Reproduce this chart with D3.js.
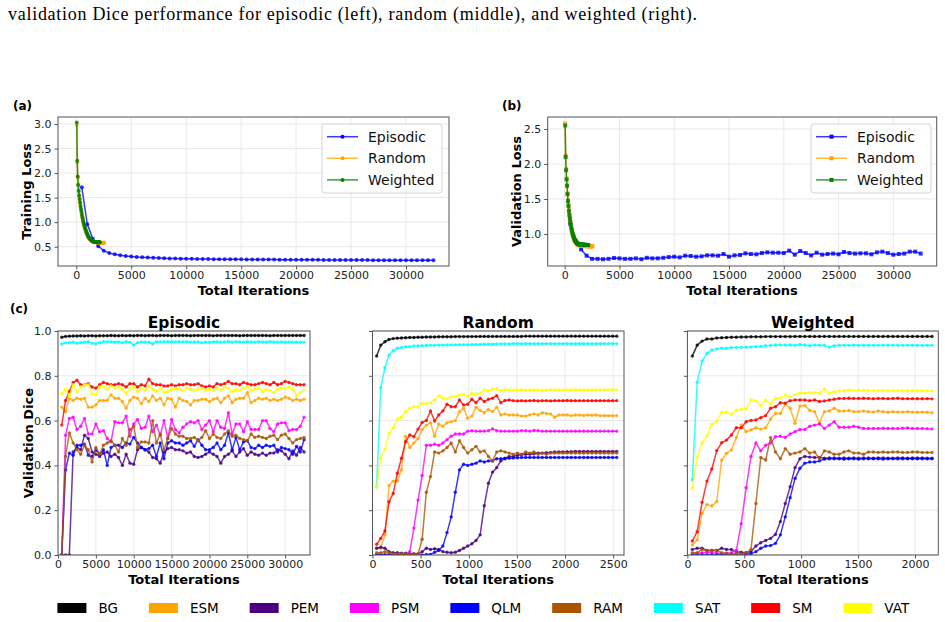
<!DOCTYPE html>
<html>
<head>
<meta charset="utf-8">
<script src="https://cdn.jsdelivr.net/npm/d3@7"></script>
<style>
  body { margin: 0; background: #fff; }
  svg { display: block; }
</style>
</head>
<body>
<svg id="chart" width="945" height="622"></svg>
<script>
// ---- values ----
const strategyNames = ["Episodic", "Random", "Weighted"];
const strategyColors = ["#0000ff", "#ffa500", "#008000"];

const classNames = ["BG", "ESM", "PEM", "PSM", "QLM", "RAM", "SAT", "SM", "VAT"];
const classColors = ["#000000", "#ffa500", "#4b0082", "#ff00ff", "#0000ff", "#aa5500", "#00ffff", "#ff0000", "#ffff00"];

// evaluation step (iterations) of each strategy
const episodicStep = 500;
const sampledStep = 43;

const lossTicksA = [0.5, 1.0, 1.5, 2.0, 2.5, 3.0];
const lossTicksB = [1.0, 1.5, 2.0, 2.5];
const iterTicksLong = [0, 5000, 10000, 15000, 20000, 25000, 30000];
const iterTicksRandom = [0, 500, 1000, 1500, 2000, 2500];
const iterTicksWeighted = [0, 500, 1000, 1500, 2000];
const diceTicks = [0.0, 0.2, 0.4, 0.6, 0.8, 1.0];

// (a) training loss
const trainEpisodic = [1.71,0.96,0.66,0.51,0.42,0.37,0.345,0.325,0.31,0.3,
  0.29,0.285,0.28,0.275,0.27,0.265,0.262,0.26,0.257,0.255,
  0.253,0.251,0.25,0.248,0.247,0.246,0.245,0.244,0.243,0.242,
  0.241,0.24,0.239,0.238,0.238,0.237,0.236,0.235,0.235,0.234,
  0.233,0.233,0.232,0.232,0.231,0.23,0.23,0.229,0.229,0.228,
  0.228,0.227,0.227,0.226,0.226,0.225,0.225,0.225,0.224,0.224,
  0.223,0.223,0.223,0.222,0.222];
const trainRandom = [2.98,2.22,1.91,1.74,1.62,1.53,1.45,1.38,1.31,1.25,
  1.19,1.13,1.08,1.03,0.99,0.95,0.91,0.88,0.85,0.82,
  0.79,0.77,0.745,0.725,0.705,0.69,0.675,0.662,0.65,0.64,
  0.632,0.625,0.618,0.612,0.607,0.603,0.6,0.597,0.595,0.593,
  0.591,0.59,0.589,0.588,0.587,0.586,0.585,0.585,0.584,0.584,
  0.583,0.583,0.582,0.582,0.582,0.581,0.581,0.581,0.58];
const trainWeighted = [3.03,2.25,1.93,1.76,1.64,1.55,1.47,1.4,1.33,1.27,
  1.21,1.15,1.1,1.05,1.01,0.97,0.93,0.9,0.87,0.84,
  0.81,0.785,0.76,0.74,0.72,0.7,0.685,0.67,0.66,0.65,
  0.64,0.632,0.625,0.618,0.612,0.607,0.603,0.6,0.598,0.597,
  0.596,0.595,0.595,0.594,0.594,0.593,0.593,0.592,0.592,0.592];

// (b) validation loss
const valEpisodic = [1.15,0.9,0.78,0.69,0.645,0.645,0.64,0.645,0.657,0.652,
  0.645,0.645,0.652,0.64,0.66,0.652,0.652,0.66,0.67,0.676,
  0.666,0.69,0.686,0.676,0.681,0.695,0.695,0.69,0.714,0.676,
  0.695,0.7,0.724,0.714,0.71,0.728,0.738,0.733,0.733,0.728,
  0.762,0.705,0.757,0.728,0.695,0.733,0.705,0.714,0.72,0.71,
  0.743,0.728,0.72,0.724,0.724,0.71,0.738,0.748,0.728,0.705,
  0.714,0.72,0.748,0.748,0.72];
const valRandom = [2.58,2.12,1.93,1.79,1.69,1.58,1.48,1.41,1.34,1.28,
  1.22,1.17,1.13,1.09,1.05,1.02,0.99,0.97,0.95,0.93,
  0.91,0.9,0.89,0.88,0.87,0.86,0.855,0.85,0.846,0.843,
  0.84,0.838,0.836,0.835,0.834,0.833,0.832,0.831,0.83,0.83,
  0.829,0.829,0.828,0.828,0.828,0.827,0.827,0.827,0.826,0.826,
  0.826,0.826,0.825,0.825,0.825,0.825,0.825,0.825,0.825];
const valWeighted = [2.55,2.1,1.91,1.78,1.69,1.57,1.47,1.4,1.33,1.27,
  1.22,1.17,1.13,1.09,1.06,1.03,1.0,0.98,0.96,0.94,
  0.92,0.91,0.9,0.89,0.88,0.87,0.865,0.86,0.857,0.855,
  0.853,0.851,0.85,0.849,0.848,0.848,0.847,0.847,0.846,0.846,
  0.845,0.845,0.845,0.844,0.844,0.844,0.843,0.843,0.843,0.843];

// (c) validation Dice, episodic
const epBG = [0.972,0.976,0.977,0.978,0.978,0.979,0.978,0.979,0.979,0.978,
  0.979,0.979,0.979,0.98,0.979,0.979,0.98,0.979,0.98,0.979,
  0.98,0.98,0.979,0.98,0.98,0.979,0.98,0.98,0.98,0.979,
  0.98,0.98,0.98,0.98,0.979,0.98,0.98,0.98,0.98,0.98,
  0.979,0.98,0.98,0.98,0.98,0.98,0.98,0.979,0.98,0.98,
  0.98,0.98,0.98,0.98,0.98,0.979,0.98,0.98,0.98,0.98,
  0.98,0.98,0.98,0.98,0.98];
const epESM = [0.66,0.64,0.7,0.69,0.7,0.695,0.7,0.66,0.66,0.67,
  0.69,0.69,0.69,0.715,0.7,0.7,0.685,0.655,0.69,0.705,
  0.7,0.675,0.7,0.685,0.71,0.69,0.7,0.67,0.7,0.695,
  0.66,0.7,0.69,0.685,0.67,0.69,0.69,0.695,0.695,0.685,
  0.695,0.7,0.68,0.7,0.71,0.68,0.695,0.7,0.7,0.725,
  0.68,0.69,0.7,0.695,0.7,0.69,0.695,0.69,0.695,0.705,
  0.7,0.69,0.695,0.69,0.695];
const epPEM = [0.0,0.0,0.0,0.46,0.48,0.47,0.535,0.52,0.46,0.45,
  0.44,0.455,0.46,0.44,0.45,0.435,0.4,0.45,0.41,0.405,
  0.47,0.48,0.47,0.46,0.435,0.43,0.41,0.46,0.475,0.48,
  0.47,0.47,0.465,0.455,0.46,0.44,0.435,0.44,0.45,0.46,
  0.45,0.44,0.41,0.44,0.45,0.465,0.44,0.46,0.475,0.445,
  0.46,0.45,0.445,0.455,0.445,0.455,0.455,0.47,0.465,0.45,
  0.43,0.465,0.445,0.48,0.46];
const epPSM = [0.0,0.535,0.61,0.615,0.56,0.575,0.61,0.54,0.54,0.585,
  0.55,0.555,0.52,0.505,0.595,0.59,0.59,0.62,0.53,0.585,
  0.605,0.565,0.57,0.62,0.55,0.58,0.535,0.6,0.52,0.605,
  0.56,0.545,0.57,0.585,0.595,0.59,0.6,0.56,0.58,0.6,
  0.55,0.6,0.57,0.565,0.635,0.54,0.585,0.585,0.55,0.595,
  0.56,0.56,0.56,0.6,0.6,0.565,0.55,0.585,0.59,0.59,
  0.555,0.56,0.56,0.575,0.615];
const epQLM = [0.0,0.38,0.455,0.445,0.49,0.49,0.495,0.445,0.44,0.47,
  0.45,0.47,0.4,0.48,0.49,0.49,0.48,0.5,0.495,0.525,
  0.5,0.48,0.47,0.475,0.49,0.44,0.5,0.43,0.5,0.51,
  0.5,0.5,0.49,0.5,0.51,0.485,0.515,0.49,0.47,0.47,
  0.48,0.5,0.47,0.49,0.545,0.47,0.525,0.47,0.505,0.51,
  0.48,0.475,0.49,0.48,0.49,0.485,0.49,0.46,0.48,0.475,
  0.47,0.45,0.485,0.46,0.515];
const epRAM = [0.0,0.44,0.545,0.5,0.47,0.45,0.49,0.47,0.415,0.48,
  0.45,0.49,0.5,0.51,0.49,0.46,0.52,0.49,0.56,0.575,
  0.48,0.505,0.505,0.5,0.6,0.5,0.54,0.47,0.52,0.565,
  0.54,0.53,0.53,0.52,0.52,0.525,0.51,0.525,0.555,0.52,
  0.54,0.525,0.52,0.54,0.555,0.53,0.535,0.52,0.515,0.51,
  0.54,0.525,0.53,0.525,0.52,0.53,0.535,0.515,0.535,0.54,
  0.52,0.5,0.515,0.52,0.525];
const epSAT = [0.942,0.947,0.948,0.95,0.945,0.948,0.95,0.952,0.946,0.943,
  0.948,0.952,0.952,0.951,0.95,0.951,0.948,0.952,0.95,0.937,
  0.948,0.951,0.95,0.95,0.942,0.952,0.951,0.952,0.952,0.952,
  0.951,0.952,0.951,0.952,0.95,0.951,0.951,0.948,0.95,0.949,
  0.951,0.952,0.95,0.951,0.953,0.95,0.952,0.951,0.95,0.952,
  0.951,0.95,0.952,0.951,0.95,0.952,0.951,0.95,0.951,0.95,
  0.951,0.95,0.95,0.95,0.95];
const epSM = [0.58,0.69,0.73,0.77,0.78,0.76,0.76,0.765,0.75,0.745,
  0.76,0.77,0.765,0.76,0.76,0.765,0.76,0.75,0.765,0.765,
  0.75,0.76,0.755,0.785,0.765,0.76,0.76,0.755,0.755,0.76,
  0.755,0.76,0.76,0.765,0.76,0.76,0.765,0.755,0.75,0.755,
  0.75,0.765,0.76,0.765,0.775,0.765,0.765,0.76,0.77,0.765,
  0.76,0.76,0.765,0.77,0.765,0.76,0.77,0.76,0.765,0.775,
  0.77,0.765,0.76,0.76,0.76];
const epVAT = [0.72,0.74,0.71,0.76,0.73,0.75,0.76,0.76,0.72,0.715,
  0.75,0.755,0.74,0.755,0.745,0.75,0.74,0.72,0.745,0.75,
  0.73,0.745,0.735,0.755,0.74,0.73,0.745,0.725,0.73,0.74,
  0.745,0.74,0.735,0.745,0.74,0.735,0.74,0.745,0.735,0.74,
  0.735,0.745,0.735,0.75,0.745,0.73,0.74,0.735,0.745,0.75,
  0.735,0.74,0.745,0.73,0.74,0.735,0.725,0.74,0.745,0.745,
  0.75,0.74,0.71,0.725,0.735];

// (c) validation Dice, random
const rBG = [0.888,0.937,0.952,0.962,0.966,0.968,0.969,0.97,0.971,0.971,
  0.972,0.972,0.973,0.973,0.973,0.974,0.974,0.974,0.974,0.975,
  0.975,0.975,0.975,0.975,0.975,0.976,0.976,0.976,0.976,0.976,
  0.976,0.976,0.976,0.976,0.976,0.976,0.977,0.977,0.977,0.977,
  0.977,0.977,0.977,0.977,0.977,0.977,0.977,0.977,0.977,0.977,
  0.977,0.977,0.977,0.977,0.977,0.977,0.977,0.977,0.977];
const rESM = [0.03,0.03,0.09,0.31,0.33,0.33,0.38,0.53,0.48,0.5,
  0.52,0.56,0.58,0.59,0.53,0.585,0.575,0.59,0.595,0.6,
  0.64,0.655,0.61,0.62,0.66,0.645,0.635,0.65,0.64,0.66,
  0.625,0.63,0.625,0.625,0.625,0.62,0.62,0.625,0.63,0.625,
  0.635,0.632,0.63,0.615,0.625,0.625,0.625,0.622,0.625,0.625,
  0.623,0.625,0.624,0.625,0.622,0.623,0.622,0.622,0.622];
const rPEM = [0.03,0.035,0.03,0.015,0.01,0.01,0.008,0.008,0.006,0.006,
  0.005,0.015,0.03,0.025,0.028,0.025,0.015,0.012,0.01,0.012,
  0.02,0.03,0.04,0.05,0.065,0.09,0.22,0.32,0.37,0.39,
  0.42,0.43,0.44,0.44,0.445,0.448,0.45,0.45,0.452,0.455,
  0.455,0.457,0.458,0.46,0.46,0.46,0.461,0.461,0.462,0.462,
  0.462,0.462,0.462,0.462,0.462,0.462,0.462,0.462,0.462];
const rPSM = [0.003,0.003,0.002,0.002,0.002,0.002,0.002,0.003,0.015,0.12,
  0.245,0.355,0.49,0.49,0.495,0.49,0.5,0.515,0.53,0.54,
  0.54,0.54,0.553,0.555,0.553,0.553,0.553,0.555,0.563,0.555,
  0.553,0.553,0.553,0.553,0.553,0.555,0.555,0.553,0.556,0.555,
  0.553,0.553,0.553,0.553,0.553,0.553,0.553,0.553,0.553,0.553,
  0.553,0.553,0.553,0.553,0.553,0.553,0.553,0.553,0.553];
const rQLM = [0.0,0.0,0.0,0.0,0.0,0.0,0.0,0.0,0.0,0.0,
  0.0,0.0,0.002,0.003,0.012,0.02,0.04,0.1,0.17,0.28,
  0.38,0.405,0.4,0.405,0.41,0.42,0.415,0.42,0.42,0.43,
  0.43,0.432,0.432,0.433,0.434,0.435,0.435,0.435,0.435,0.435,
  0.435,0.435,0.435,0.435,0.435,0.435,0.435,0.435,0.435,0.435,
  0.435,0.435,0.435,0.435,0.435,0.435,0.435,0.435,0.435];
const rRAM = [0.01,0.01,0.015,0.01,0.005,0.005,0.005,0.005,0.005,0.005,
  0.005,0.07,0.28,0.35,0.46,0.455,0.465,0.48,0.5,0.46,
  0.51,0.48,0.455,0.47,0.485,0.46,0.465,0.44,0.42,0.46,
  0.465,0.46,0.455,0.45,0.455,0.45,0.46,0.455,0.46,0.45,
  0.455,0.45,0.455,0.455,0.455,0.455,0.455,0.455,0.455,0.455,
  0.455,0.455,0.455,0.455,0.455,0.455,0.455,0.455,0.455];
const rSAT = [0.305,0.747,0.836,0.893,0.912,0.923,0.926,0.93,0.93,0.933,
  0.933,0.934,0.935,0.936,0.936,0.937,0.937,0.938,0.938,0.938,
  0.939,0.939,0.939,0.94,0.94,0.94,0.941,0.941,0.941,0.942,
  0.942,0.942,0.942,0.943,0.943,0.943,0.943,0.943,0.943,0.943,
  0.943,0.943,0.943,0.943,0.943,0.943,0.943,0.943,0.943,0.943,
  0.943,0.943,0.943,0.943,0.943,0.943,0.943,0.943,0.943];
const rSM = [0.048,0.074,0.107,0.238,0.275,0.365,0.432,0.506,0.536,0.528,
  0.562,0.592,0.6,0.643,0.598,0.625,0.643,0.673,0.662,0.662,
  0.692,0.67,0.673,0.695,0.68,0.7,0.685,0.695,0.7,0.711,
  0.68,0.69,0.692,0.689,0.688,0.689,0.688,0.689,0.69,0.688,
  0.689,0.689,0.688,0.689,0.689,0.689,0.69,0.689,0.689,0.689,
  0.689,0.689,0.689,0.689,0.689,0.689,0.689,0.689,0.689];
const rVAT = [0.305,0.432,0.473,0.543,0.568,0.606,0.615,0.64,0.655,0.662,
  0.662,0.677,0.675,0.68,0.692,0.711,0.7,0.697,0.707,0.707,
  0.714,0.717,0.707,0.722,0.717,0.722,0.737,0.733,0.741,0.741,
  0.733,0.737,0.737,0.736,0.738,0.737,0.735,0.737,0.738,0.737,
  0.733,0.736,0.737,0.738,0.737,0.736,0.737,0.737,0.738,0.737,
  0.737,0.738,0.737,0.738,0.737,0.738,0.738,0.738,0.738];

// (c) validation Dice, weighted
const wBG = [0.888,0.937,0.955,0.964,0.964,0.969,0.97,0.971,0.972,0.972,
  0.973,0.973,0.974,0.974,0.974,0.975,0.975,0.975,0.975,0.975,
  0.975,0.976,0.976,0.976,0.976,0.976,0.976,0.976,0.976,0.976,
  0.976,0.976,0.976,0.976,0.976,0.976,0.976,0.976,0.976,0.976,
  0.976,0.976,0.976,0.976,0.976,0.976,0.976,0.976,0.976,0.976];
const wESM = [0.045,0.067,0.186,0.226,0.219,0.238,0.424,0.454,0.469,0.524,
  0.58,0.55,0.558,0.568,0.562,0.568,0.607,0.632,0.632,0.673,
  0.655,0.588,0.665,0.667,0.645,0.64,0.588,0.64,0.643,0.655,
  0.643,0.643,0.645,0.64,0.64,0.643,0.64,0.638,0.643,0.64,
  0.637,0.64,0.638,0.638,0.64,0.638,0.637,0.638,0.637,0.635];
const wPEM = [0.025,0.03,0.03,0.02,0.02,0.02,0.03,0.025,0.025,0.015,
  0.012,0.01,0.015,0.04,0.055,0.065,0.074,0.092,0.149,0.23,
  0.305,0.39,0.43,0.44,0.437,0.435,0.435,0.432,0.433,0.433,
  0.432,0.433,0.432,0.433,0.432,0.433,0.433,0.432,0.433,0.433,
  0.432,0.432,0.433,0.433,0.432,0.433,0.433,0.433,0.432,0.432];
const wPSM = [0.005,0.008,0.01,0.012,0.01,0.008,0.006,0.008,0.01,0.02,
  0.14,0.3,0.44,0.5,0.465,0.49,0.5,0.528,0.53,0.525,
  0.54,0.55,0.56,0.56,0.575,0.58,0.585,0.565,0.58,0.595,
  0.57,0.57,0.57,0.575,0.57,0.565,0.565,0.565,0.565,0.566,
  0.565,0.565,0.565,0.566,0.567,0.565,0.565,0.565,0.564,0.563];
const wQLM = [0.0,0.0,0.0,0.0,0.0,0.0,0.0,0.0,0.0,0.0,
  0.0,0.003,0.006,0.015,0.03,0.04,0.042,0.052,0.09,0.17,
  0.256,0.342,0.387,0.41,0.415,0.415,0.42,0.428,0.43,0.43,
  0.43,0.428,0.43,0.43,0.428,0.43,0.43,0.43,0.43,0.428,
  0.43,0.43,0.43,0.43,0.43,0.43,0.43,0.43,0.43,0.43];
const wRAM = [0.01,0.01,0.025,0.02,0.02,0.02,0.01,0.008,0.005,0.006,
  0.005,0.01,0.025,0.23,0.435,0.424,0.524,0.46,0.43,0.475,
  0.45,0.455,0.46,0.475,0.455,0.46,0.43,0.465,0.46,0.45,
  0.45,0.46,0.465,0.455,0.455,0.45,0.46,0.46,0.458,0.46,
  0.458,0.46,0.46,0.458,0.458,0.46,0.46,0.458,0.458,0.458];
const wSAT = [0.335,0.771,0.866,0.9,0.915,0.92,0.923,0.923,0.926,0.926,
  0.927,0.928,0.929,0.93,0.931,0.934,0.935,0.9375,0.9375,0.9375,
  0.9375,0.936,0.94,0.9375,0.934,0.9375,0.936,0.936,0.928,0.934,
  0.936,0.936,0.936,0.937,0.936,0.936,0.936,0.936,0.936,0.936,
  0.936,0.936,0.936,0.936,0.936,0.936,0.936,0.936,0.936,0.936];
const wSM = [0.0625,0.104,0.235,0.33,0.384,0.466,0.501,0.513,0.536,0.568,
  0.568,0.595,0.601,0.603,0.613,0.622,0.655,0.662,0.68,0.678,
  0.689,0.692,0.692,0.692,0.689,0.692,0.685,0.688,0.692,0.695,
  0.699,0.699,0.7,0.699,0.699,0.7,0.699,0.698,0.699,0.699,
  0.698,0.699,0.7,0.698,0.698,0.698,0.698,0.698,0.698,0.697];
const wVAT = [0.298,0.439,0.499,0.533,0.583,0.598,0.637,0.637,0.628,0.647,
  0.65,0.653,0.692,0.689,0.667,0.692,0.673,0.7,0.7,0.714,
  0.707,0.717,0.722,0.722,0.726,0.724,0.722,0.741,0.722,0.729,
  0.732,0.734,0.737,0.734,0.735,0.735,0.734,0.733,0.734,0.734,
  0.733,0.733,0.734,0.733,0.733,0.734,0.733,0.733,0.733,0.732];

// iteration of each evaluation point
const episodicIters = epBG.map((_, i) => episodicStep * (i + 1));
const randomIters = rBG.map((_, i) => sampledStep * (i + 1));
const weightedIters = wBG.map((_, i) => sampledStep * (i + 1));

const episodicDice = [epBG, epESM, epPEM, epPSM, epQLM, epRAM, epSAT, epSM, epVAT];
const randomDice = [rBG, rESM, rPEM, rPSM, rQLM, rRAM, rSAT, rSM, rVAT];
const weightedDice = [wBG, wESM, wPEM, wPSM, wQLM, wRAM, wSAT, wSM, wVAT];

// ---- drawing ----
const FONT = "'DejaVu Sans', sans-serif";
const svg = d3.select("#chart");

svg.append("text")
  .attr("x", 8).attr("y", 19.5)
  .attr("font-family", "'Liberation Serif', serif")
  .attr("font-size", 18)
  .attr("textLength", 689)
  .attr("lengthAdjust", "spacing")
  .text("validation Dice performance for episodic (left), random (middle), and weighted (right).");

let clipCount = 0;

function makePanel(p) {
  const x = d3.scaleLinear().domain(p.xDomain).range([p.left, p.right]);
  const y = d3.scaleLinear().domain(p.yDomain).range([p.bottom, p.top]);
  const g = svg.append("g");

  // grid
  g.append("g").selectAll("line").data(p.xTicks).join("line")
    .attr("x1", d => x(d)).attr("x2", d => x(d))
    .attr("y1", p.top).attr("y2", p.bottom)
    .attr("stroke", "#e6e6e6").attr("stroke-width", 0.9);
  g.append("g").selectAll("line").data(p.yTicks).join("line")
    .attr("x1", p.left).attr("x2", p.right)
    .attr("y1", d => y(d)).attr("y2", d => y(d))
    .attr("stroke", "#e6e6e6").attr("stroke-width", 0.9);

  // axes
  const xAxis = g.append("g")
    .attr("transform", `translate(0,${p.bottom})`)
    .call(d3.axisBottom(x).tickValues(p.xTicks).tickSize(3.5).tickPadding(1.5).tickFormat(d3.format("d")));
  const yAxis = g.append("g")
    .attr("transform", `translate(${p.left},0)`)
    .call(d3.axisLeft(y).tickValues(p.yTicks).tickSize(3.5).tickPadding(3)
      .tickFormat(p.yLabels ? d3.format(".1f") : () => ""));
  [xAxis, yAxis].forEach(a => {
    a.select(".domain").remove();
    a.selectAll("line").attr("stroke", "#555");
    a.selectAll("text").attr("font-family", FONT).attr("font-size", 11).attr("fill", "#222");
  });

  const id = "clip" + (clipCount++);
  svg.append("clipPath").attr("id", id).append("rect")
    .attr("x", p.left).attr("y", p.top)
    .attr("width", p.right - p.left).attr("height", p.bottom - p.top);
  const plot = g.append("g").attr("clip-path", `url(#${id})`);

  return { x, y, g, plot, p };
}

function finishPanel(panel) {
  const p = panel.p;
  panel.g.append("rect")
    .attr("x", p.left).attr("y", p.top)
    .attr("width", p.right - p.left).attr("height", p.bottom - p.top)
    .attr("fill", "none").attr("stroke", "#555").attr("stroke-width", 1);
}

function drawSeries(panel, iters, values, color, marker, r) {
  const pts = values.map((v, i) => [iters[i], v]);
  const line = d3.line().x(d => panel.x(d[0])).y(d => panel.y(d[1]));
  const s = panel.plot.append("g");
  s.append("path").datum(pts)
    .attr("d", line)
    .attr("fill", "none")
    .attr("stroke", color)
    .attr("stroke-opacity", 0.78)
    .attr("stroke-width", 1.5)
    .attr("stroke-linejoin", "round");
  if (marker === "square") {
    s.selectAll("rect").data(pts).join("rect")
      .attr("x", d => panel.x(d[0]) - r).attr("y", d => panel.y(d[1]) - r)
      .attr("width", 2 * r).attr("height", 2 * r)
      .attr("fill", color).attr("fill-opacity", 0.8);
  } else {
    s.selectAll("circle").data(pts).join("circle")
      .attr("cx", d => panel.x(d[0])).attr("cy", d => panel.y(d[1]))
      .attr("r", r)
      .attr("fill", color).attr("fill-opacity", 0.8);
  }
}

function lossLegend(x0, y0, marker) {
  const g = svg.append("g");
  g.append("rect")
    .attr("x", x0).attr("y", y0).attr("width", 120).attr("height", 69).attr("rx", 3)
    .attr("fill", "#fff").attr("fill-opacity", 0.85)
    .attr("stroke", "#d5d5d5");
  strategyNames.forEach((name, i) => {
    const cy = y0 + 12.7 + i * 21.6;
    g.append("line")
      .attr("x1", x0 + 5).attr("x2", x0 + 36).attr("y1", cy).attr("y2", cy)
      .attr("stroke", strategyColors[i]).attr("stroke-opacity", 0.78).attr("stroke-width", 1.5);
    if (marker === "square") {
      g.append("rect").attr("x", x0 + 18.5).attr("y", cy - 2).attr("width", 4).attr("height", 4)
        .attr("fill", strategyColors[i]);
    } else {
      g.append("circle").attr("cx", x0 + 20.5).attr("cy", cy).attr("r", 2)
        .attr("fill", strategyColors[i]);
    }
    g.append("text")
      .attr("x", x0 + 46).attr("y", cy + 5)
      .attr("font-family", FONT).attr("font-size", 14).attr("fill", "#111")
      .text(name);
  });
}

function label(txt, x, y, size, opts = {}) {
  const t = svg.append("text")
    .attr("x", x).attr("y", y)
    .attr("font-family", FONT).attr("font-size", size)
    .attr("font-weight", "bold").attr("fill", "#000")
    .attr("text-anchor", opts.anchor || "middle")
    .text(txt);
  if (opts.rotate) t.attr("transform", `rotate(-90,${x},${y})`);
  return t;
}

// (a) training loss
const pa = makePanel({ left: 58, right: 449, top: 117, bottom: 266,
  xDomain: [-1665, 33913], yDomain: [0.107, 3.143],
  xTicks: iterTicksLong, yTicks: lossTicksA, yLabels: true });
drawSeries(pa, episodicIters, trainEpisodic, strategyColors[0], "circle", 2);
drawSeries(pa, randomIters, trainRandom, strategyColors[1], "circle", 2);
drawSeries(pa, weightedIters, trainWeighted, strategyColors[2], "circle", 2);
finishPanel(pa);
lossLegend(322, 124, "circle");
label("(a)", 13, 110, 12, { anchor: "start" });
label("Training Loss", 31, 191.5, 13, { rotate: true });
label("Total Iterations", 253.5, 295, 13);

// (b) validation loss
const pb = makePanel({ left: 547.7, right: 936.7, top: 117, bottom: 266,
  xDomain: [-1552, 33961], yDomain: [0.543, 2.671],
  xTicks: iterTicksLong, yTicks: lossTicksB, yLabels: true });
drawSeries(pb, episodicIters, valEpisodic, strategyColors[0], "square", 2);
drawSeries(pb, randomIters, valRandom, strategyColors[1], "square", 2);
drawSeries(pb, weightedIters, valWeighted, strategyColors[2], "square", 2);
finishPanel(pb);
lossLegend(811, 124, "square");
label("(b)", 502, 110, 12, { anchor: "start" });
label("Validation Loss", 520.5, 191.5, 13, { rotate: true });
label("Total Iterations", 742, 295, 13);

// (c) validation Dice
const dicePanels = [
  { title: "Episodic", left: 58, right: 310, xMax: 33280, ticks: iterTicksLong, iters: episodicIters, data: episodicDice, yLabels: true },
  { title: "Random", left: 372.5, right: 624, xMax: 2612, ticks: iterTicksRandom, iters: randomIters, data: randomDice, yLabels: false },
  { title: "Weighted", left: 687.4, right: 938.3, xMax: 2205, ticks: iterTicksWeighted, iters: weightedIters, data: weightedDice, yLabels: false }
];
dicePanels.forEach(d => {
  const pc = makePanel({ left: d.left, right: d.right, top: 331, bottom: 555,
    xDomain: [0, d.xMax], yDomain: [0, 1],
    xTicks: d.ticks, yTicks: diceTicks, yLabels: d.yLabels });
  d.data.forEach((vals, i) => drawSeries(pc, d.iters, vals, classColors[i], "circle", 1.7));
  finishPanel(pc);
  label(d.title, (d.left + d.right) / 2, 328, 15.5);
  label("Total Iterations", (d.left + d.right) / 2, 584, 13);
});
label("(c)", 10, 313, 12, { anchor: "start" });
label("Validation Dice", 32.5, 443, 13, { rotate: true });

// class legend along the bottom
const legendG = svg.append("g");
let cursor = 0;
classNames.forEach((name, i) => {
  const item = legendG.append("g").attr("transform", `translate(${cursor},613)`);
  item.append("rect").attr("x", 0).attr("y", -10).attr("width", 29).attr("height", 10)
    .attr("fill", classColors[i]);
  const t = item.append("text").attr("x", 41).attr("y", 0)
    .attr("font-family", FONT).attr("font-size", 13.5).attr("fill", "#000")
    .text(name);
  cursor += 41 + t.node().getComputedTextLength() + 31;
});
const legendWidth = cursor - 31;
legendG.attr("transform", `translate(${483.3 - legendWidth / 2},0)`);
</script>
</body>
</html>
